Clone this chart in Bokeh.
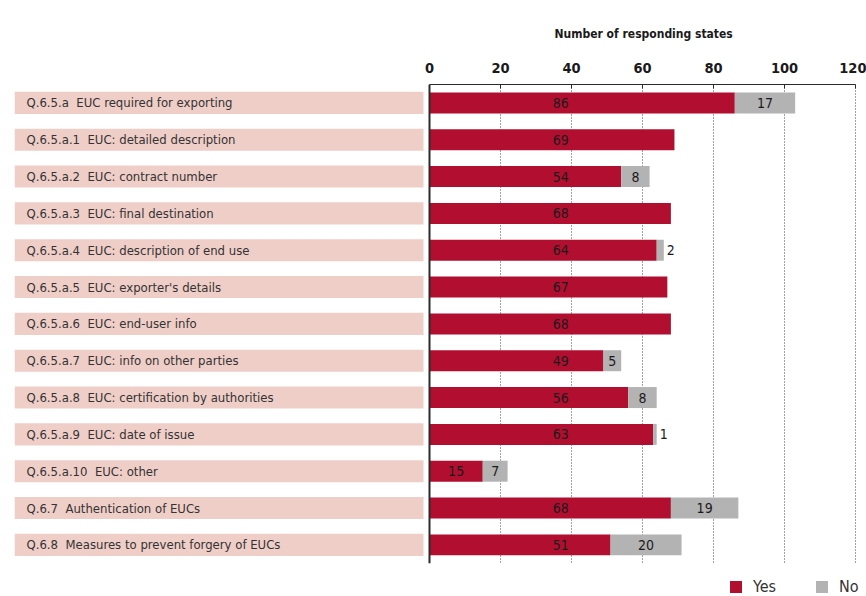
from bokeh.plotting import figure
from bokeh.models import Range1d, FixedTicker, Legend, LegendItem, Title
from bokeh.core.properties import value
from bokeh.embed import file_html
from bokeh.resources import INLINE

categories = [
    "Q.6.5.a\u00a0 EUC required for exporting",
    "Q.6.5.a.1\u00a0 EUC: detailed description",
    "Q.6.5.a.2\u00a0 EUC: contract number",
    "Q.6.5.a.3\u00a0 EUC: final destination",
    "Q.6.5.a.4\u00a0 EUC: description of end use",
    "Q.6.5.a.5\u00a0 EUC: exporter's details",
    "Q.6.5.a.6\u00a0 EUC: end-user info",
    "Q.6.5.a.7\u00a0 EUC: info on other parties",
    "Q.6.5.a.8\u00a0 EUC: certification by authorities",
    "Q.6.5.a.9\u00a0 EUC: date of issue",
    "Q.6.5.a.10\u00a0 EUC: other",
    "Q.6.7\u00a0 Authentication of EUCs",
    "Q.6.8\u00a0 Measures to prevent forgery of EUCs",
]
yes = [86, 69, 54, 68, 64, 67, 68, 49, 56, 63, 15, 68, 51]
no = [17, 0, 8, 0, 2, 0, 0, 5, 8, 1, 7, 19, 20]
ticks = [0, 20, 40, 60, 80, 100, 120]
axis_title = "Number of responding states"

FONT = "'DejaVu Sans Condensed', 'Liberation Sans Narrow', 'Roboto', sans-serif"
RED = "#B20F30"
GREY = "#B3B3B3"
PINK = "#F0CEC8"
DARK = "#2b2b2b"

W, H = 866, 596
frame_left, zero_px, grid_end_px, frame_right = 14, 429, 855, 864
frame_top = 84
row_px = 36.83
ppu = (grid_end_px - zero_px) / ticks[-1]
x_start = -(zero_px - frame_left) / ppu
x_end = ticks[-1] + (frame_right - grid_end_px) / ppu
n = len(categories)
idx = list(range(n))
y_end = -0.5 + (H - frame_top) / row_px

p = figure(width=W, height=H, output_backend="svg", toolbar_location=None,
           x_range=Range1d(x_start, x_end), y_range=Range1d(y_end, -0.5),
           x_axis_location="above", y_axis_location=None,
           min_border_left=frame_left, min_border_right=W - frame_right,
           min_border_top=frame_top, min_border_bottom=0)
p.outline_line_color = None
p.background_fill_color = "white"
p.grid.grid_line_color = None

ax = p.xaxis[0]
ax.ticker = FixedTicker(ticks=ticks)
ax.bounds = (ticks[0], ticks[-1])
ax.axis_line_color = DARK
ax.axis_line_width = 1
ax.major_tick_in = 4
ax.major_tick_out = 0
ax.major_tick_line_color = DARK
ax.minor_tick_line_color = None
ax.major_label_text_font = FONT
ax.major_label_text_font_size = "14.5px"
ax.major_label_text_font_style = "bold"
ax.major_label_text_color = "#1a1a1a"
ax.major_label_standoff = 12

# chart title placed over the 0-120 scale
title_center_px = (zero_px + grid_end_px) / 2
title = Title(text=axis_title, align="left", offset=title_center_px - frame_left - 88,
              vertical_align="top",
              text_font=FONT, text_font_size="12px", text_font_style="bold",
              text_color="#1a1a1a", standoff=34)
p.add_layout(title, "above")

# dotted grid lines limited to the bar rows
p.segment(x0=ticks[1:], y0=-0.5, x1=ticks[1:], y1=n - 0.5, line_color="#444444",
          line_dash="1 2", line_width=1)

# label backgrounds and texts
bg_right = -6 / ppu
p.hbar(y=idx, left=x_start, right=bg_right, height=0.6, fill_color=PINK, line_color=None)
p.text(x=[x_start + 12 / ppu] * n, y=idx, text=categories, text_baseline="middle",
       text_align="left", text_font=value(FONT), text_font_size="13px", text_color="#333333")

# bars
totals = [a + b for a, b in zip(yes, no)]
r_yes = p.hbar(y=idx, left=0, right=yes, height=0.57, fill_color=RED, line_color=None)
r_no = p.hbar(y=idx, left=yes, right=totals, height=0.57, fill_color=GREY, line_color=None)

p.segment(x0=[0], y0=[-0.5], x1=[0], y1=[n - 0.5], line_color=DARK, line_width=2)

# value labels
yes_x = [37 if v > 40 else v / 2 for v in yes]
p.text(x=yes_x, y=idx, text=[str(v) for v in yes], text_align="center", text_baseline="middle",
       text_font=value(FONT), text_font_size="14px", text_color="#1a1a1a")

in_x, in_y, in_t, out_x, out_y, out_t = [], [], [], [], [], []
for i, (a, b) in enumerate(zip(yes, no)):
    if b >= 3:
        in_x.append(a + b / 2); in_y.append(i); in_t.append(str(b))
    elif b > 0:
        out_x.append(a + b); out_y.append(i); out_t.append(str(b))
p.text(x=in_x, y=in_y, text=in_t, text_align="center", text_baseline="middle",
       text_font=value(FONT), text_font_size="14px", text_color="#1a1a1a")
p.text(x=out_x, y=out_y, text=out_t, text_align="left", text_baseline="middle", x_offset=3,
       text_font=value(FONT), text_font_size="14px", text_color="#1a1a1a")

legend = Legend(items=[LegendItem(label="Yes", renderers=[r_yes]), LegendItem(label="No", renderers=[r_no])],
                orientation="horizontal", location=(728 - frame_left, 0), border_line_color=None,
                background_fill_alpha=0, glyph_width=15, glyph_height=15, spacing=38,
                label_standoff=10, label_text_font=FONT, label_text_font_size="16px",
                label_text_color="#333333", padding=0, margin=0)
p.add_layout(legend)

open("out.html", "w").write(file_html(p, INLINE))
